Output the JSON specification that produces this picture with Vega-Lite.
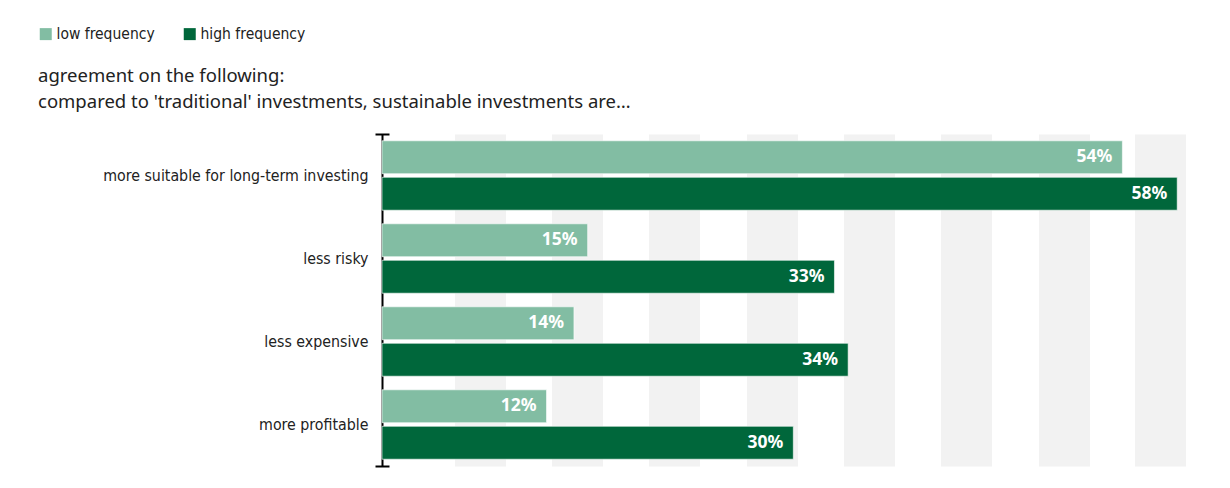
{
  "$schema": "https://vega.github.io/schema/vega-lite/v6.json",
  "autosize": "none",
  "width": 804,
  "height": 332,
  "padding": {"left": 382, "top": 134, "right": 44, "bottom": 22},
  "background": "white",
  "config": {
    "view": {"stroke": null},
    "font": "DejaVu Sans Condensed, Roboto, sans-serif"
  },
  "title": {
    "text": ["agreement on the following:", "compared to 'traditional' investments, sustainable investments are…"],
    "anchor": "start",
    "frame": "group",
    "dx": -344,
    "offset": -85,
    "font": "Noto Sans",
    "fontSize": 18.5,
    "fontWeight": "normal",
    "color": "#222222",
    "lineHeight": 26
  },
  "data": {
    "values": [
      {"statement": "more suitable for long-term investing", "group": "low frequency", "value": 0.54},
      {"statement": "more suitable for long-term investing", "group": "high frequency", "value": 0.58},
      {"statement": "less risky", "group": "low frequency", "value": 0.15},
      {"statement": "less risky", "group": "high frequency", "value": 0.33},
      {"statement": "less expensive", "group": "low frequency", "value": 0.14},
      {"statement": "less expensive", "group": "high frequency", "value": 0.34},
      {"statement": "more profitable", "group": "low frequency", "value": 0.12},
      {"statement": "more profitable", "group": "high frequency", "value": 0.30}
    ]
  },
  "layer": [
    {
      "encoding": {
        "y": {
          "field": "statement", "type": "nominal", "sort": null,
          "scale": {"paddingInner": 0, "paddingOuter": 0},
          "axis": {
            "title": null, "ticks": false, "domain": true, "domainColor": "#000000", "domainWidth": 2,
            "labelPadding": 14, "labelFontSize": 15.8, "labelColor": "#222222", "labelFont": "DejaVu Sans Condensed, Roboto, sans-serif",
            "labelLimit": 400
          }
        },
        "yOffset": {
          "field": "group", "type": "nominal",
          "sort": ["low frequency", "high frequency"],
          "scale": {"paddingInner": 0.098, "paddingOuter": 0.186}
        },
        "x": {
          "field": "value", "type": "quantitative",
          "scale": {"domain": [0, 0.5864], "nice": false, "zero": true},
          "axis": {
            "title": null, "labels": false, "ticks": false, "domain": false,
            "grid": true, "gridWidth": 51, "gridColor": "#f2f2f2", "gridOpacity": 1,
            "values": [0.0713, 0.1424, 0.2133, 0.2841, 0.3551, 0.4261, 0.4971, 0.5678]
          }
        }
      },
      "layer": [
        {
          "mark": {"type": "bar", "stroke": "#ffffff", "strokeWidth": 0.6},
          "encoding": {
            "color": {
              "field": "group", "type": "nominal",
              "scale": {"domain": ["low frequency", "high frequency"], "range": ["#82bda3", "#00673b"]},
              "legend": {
                "title": null, "orient": "none", "direction": "horizontal",
                "legendX": -344, "legendY": -108,
                "symbolType": "square", "symbolSize": 144, "symbolStrokeWidth": 0, "symbolOpacity": 1,
                "labelFont": "DejaVu Sans Condensed, Roboto, sans-serif", "labelFontSize": 15.5, "labelColor": "#222222",
                "labelOffset": 3, "columnPadding": 27, "padding": 0
              }
            }
          }
        },
        {
          "mark": {"type": "text", "align": "right", "baseline": "middle", "dx": -10, "color": "#ffffff", "font": "Noto Sans", "fontWeight": "bold", "fontSize": 17.5},
          "encoding": {
            "text": {"field": "value", "type": "quantitative", "format": ".0%"}
          }
        }
      ]
    },
    {
      "data": {"values": [{}]},
      "mark": {"type": "rule", "opacity": 0},
      "encoding": {
        "y": {
          "datum": 0, "type": "quantitative",
          "scale": {"domain": [0, 1], "nice": false},
          "axis": {
            "orient": "left", "values": [0, 1], "labels": false, "domain": false, "grid": false,
            "ticks": true, "tickSize": 14, "tickWidth": 2, "tickColor": "#000000", "offset": -7, "title": null
          }
        }
      }
    }
  ],
  "resolve": {"scale": {"y": "independent"}, "axis": {"y": "independent"}}
}
